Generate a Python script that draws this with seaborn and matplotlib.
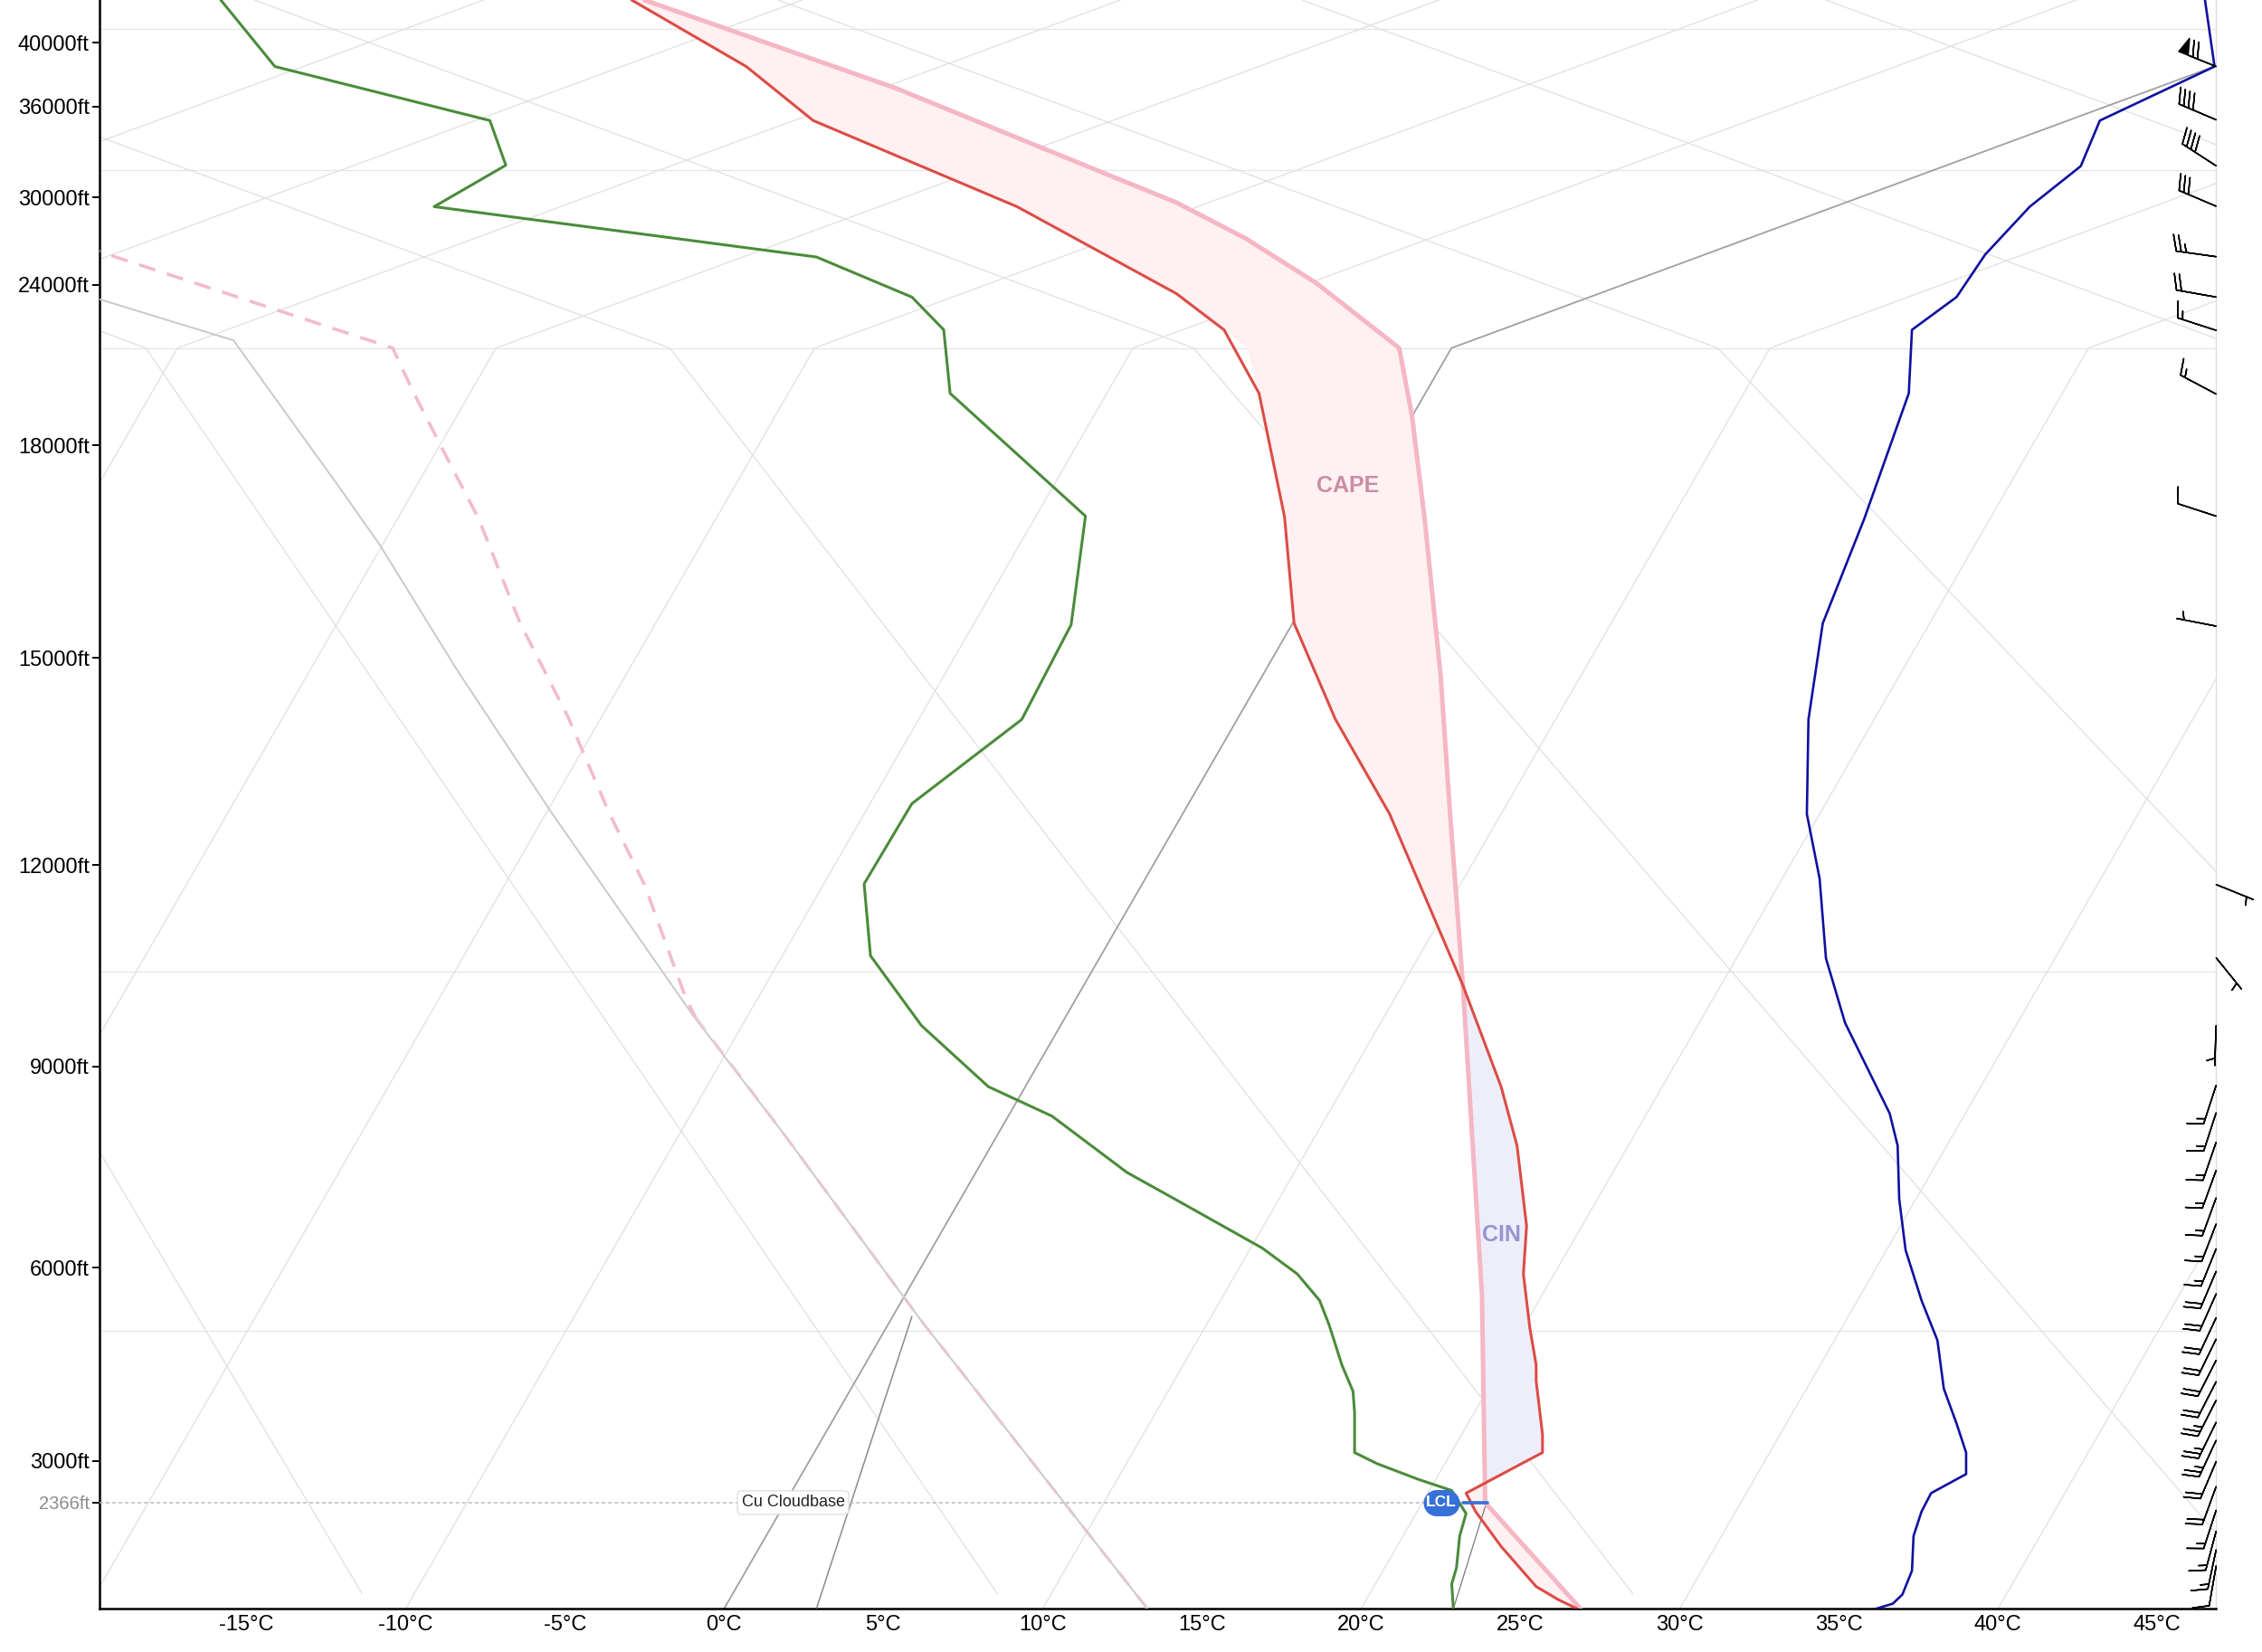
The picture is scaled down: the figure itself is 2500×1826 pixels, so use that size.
import numpy as np
import matplotlib
matplotlib.use("Agg")
import matplotlib.pyplot as plt
from matplotlib.path import Path
import seaborn as sns

# ---- sounding values (x = chart degC axis, y = altitude ft) ----
temp_c = [26.8, 26.2, 25.5, 24.4, 23.6, 23.3, 25.7, 25.7, 25.5, 25.5, 25.3, 25.1, 25.2,
          24.9, 24.4, 23.2, 20.9, 19.2, 17.9, 17.6, 16.8, 15.7, 14.2, 9.2, 2.8, 0.7, -2.9]
temp_ft = [750, 890, 1090, 1700, 2230, 2510, 3130, 3410, 4240, 4490, 5070, 5900, 6620,
           7820, 8700, 10210, 12740, 14110, 15490, 16990, 18730, 20700, 23350, 29360,
           35070, 38500, 42660]

parcel_c = [26.9, 23.9, 23.8, 23.2, 22.8, 22.5, 22.0, 21.6, 21.2, 18.6, 16.4, 14.2,
            10.2, 5.4, -2.5]
parcel_ft = [750, 2366, 5570, 10210, 12730, 14750, 16960, 18420, 19370, 24100, 27150,
             29650, 33080, 37140, 42660]

dew_c = [22.9, 22.85, 23.0, 23.1, 23.3, 23.0, 22.85, 21.8, 20.5, 19.8, 19.8, 19.75,
         19.4, 19.0, 18.7, 18.0, 16.9, 14.2, 12.65, 10.3, 8.3, 6.2, 4.6, 4.4, 5.9, 9.35,
         10.9, 11.35, 7.1, 6.9, 5.9, 2.9, -9.1, -6.85, -7.35, -14.1, -15.8]
dew_ft = [750, 1130, 1380, 1860, 2200, 2430, 2550, 2720, 2960, 3130, 3750, 4080, 4490,
          5110, 5490, 5900, 6290, 7010, 7420, 8260, 8700, 9610, 10650, 11720, 12890,
          14110, 15470, 17000, 18730, 20700, 23090, 25900, 29360, 32120, 35070, 38500,
          42660]

blue_c = [36.15, 36.7, 37.0, 37.3, 37.35, 37.6, 37.9, 39.0, 39.0, 38.7, 38.3, 38.1,
          37.6, 37.1, 36.9, 36.85, 36.6, 35.2, 34.6, 34.4, 34.0, 34.05, 34.5, 35.8,
          37.2, 37.3, 38.7, 39.6, 41.0, 42.6, 43.2, 46.8, 46.5]
blue_ft = [750, 830, 970, 1330, 1860, 2230, 2510, 2800, 3130, 3580, 4120, 4870, 5490,
           6260, 7020, 7820, 8300, 9650, 10610, 11800, 12740, 14110, 15490, 16960,
           18730, 20700, 23090, 26070, 29360, 32060, 35070, 38500, 42660]

descent_c = [-22.7, -15.4, -12.1, -10.8, -8.4, -5.4, -1.0, 1.9, 6.2, 13.3]
descent_ft = [25070, 19930, 17420, 16590, 14840, 12750, 9780, 7980, 5170, 750]

dashed_c = [-22.7, -10.4, -9.8, -8.8, -7.7, -6.4, -4.9, -3.6, -2.5, -1.2, -0.9,
            1.9, 6.2, 13.3]
dashed_ft = [28490, 19370, 18790, 17910, 16960, 15490, 14150, 12750, 11710, 10020,
             9740, 7980, 5170, 750]
FADE_FROM = 10

mix_c = [2.9, 5.9]
mix_ft = [750, 5240]
lcl_mix_c = [22.9, 23.94]
lcl_mix_ft = [750, 2366]

wind_ft = [38500, 35120, 32080, 29390, 25920, 23090, 20660, 18720, 17000, 15450,
           11710, 10620, 9610, 8720, 8310, 7870, 7450, 7040, 6650, 6280, 5940, 5590,
           5220, 4890, 4560, 4230, 3940, 3600, 3320, 2990, 2610, 2250, 1930, 1650, 1400]
wind_dir = [292, 293, 303, 293, 278, 280, 288, 298, 288, 281, 112, 141, 182, 198, 198,
            199, 200, 200, 201, 202, 203, 204, 205, 206, 207, 207, 207, 206, 205, 203,
            200, 198, 195, 192, 190]
wind_kt = [70, 40, 40, 30, 25, 20, 15, 15, 10, 5, 5, 5, 5, 15, 15, 15, 15, 15, 15, 15,
           20, 20, 20, 20, 20, 20, 25, 25, 25, 20, 20, 15, 15, 15, 10]

y_ticks = [3000, 6000, 9000, 12000, 15000, 18000, 24000, 30000, 36000, 40000]
x_ticks = list(range(-15, 50, 5))
lcl_ft = 2366
isobar_ft = [5013, 10408, 19368, 31780, 40876]

# ---- vertical scale (piecewise, compressed above 500 hPa) ----
ALT_REF = np.array([-5000, 750, 2366, 3000, 6000, 9000, 12000, 15000, 18000, 19368,
                    24000, 30000, 36000, 40000, 42660, 80000])
PIX_REF = np.array([1377.6, 1115.4, 1041.7, 1012.8, 878.7, 739.4, 599.7, 456.2, 308.6,
                    241.3, 197.3, 136.8, 73.8, 29.5, 0.0, -413.5])


def fwd(a):
    return -np.interp(a, ALT_REF, PIX_REF)


def inv(p):
    return np.interp(p, -PIX_REF, ALT_REF)


def pill_marker(aspect=1.38):
    # stadium shape used for the LCL badge
    half = (aspect - 1.0) / 2
    a1 = np.linspace(-np.pi / 2, np.pi / 2, 24)
    a2 = np.linspace(np.pi / 2, 3 * np.pi / 2, 24)
    verts = np.vstack([np.c_[half + 0.5 * np.cos(a1), 0.5 * np.sin(a1)],
                       np.c_[-half + 0.5 * np.cos(a2), 0.5 * np.sin(a2)]])
    verts = np.vstack([verts, verts[:1]])
    codes = [Path.MOVETO] + [Path.LINETO] * (len(verts) - 2) + [Path.CLOSEPOLY]
    return Path(verts, codes)


BREAK_FT = 19368
X_MIN, X_MAX = -19.61, 46.85
Y_MIN, Y_MAX = 750, 42660

sns.set_theme(style="white")
plt.rcParams["font.family"] = ["Liberation Sans", "DejaVu Sans"]

fig = plt.figure(figsize=(25, 18.26), dpi=100)
ax = fig.add_axes([0.04395, 0.02607, 0.93577, 0.97393])
ax.set_yscale("function", functions=(fwd, inv))
ax.set_xlim(X_MIN, X_MAX)
ax.set_ylim(Y_MIN, Y_MAX)

# background: isobars, skewed isotherms, dry adiabats
for h in isobar_ft:
    ax.axhline(h, color="#e6e6e6", lw=1.0, zorder=1)
for t0 in range(-60, 60, 10):
    col, lw = ("#a0a0a0", 1.3) if t0 == 0 else ("#e2e2e2", 1.0)
    ax.plot([t0, t0 + 22.84, t0 + 52.45], [Y_MIN, BREAK_FT, Y_MAX], color=col, lw=lw,
            zorder=1 if t0 else 2)
for k in range(-1, 7):
    tb = -18.15 + 16.45 * k
    ax.plot([8.59 + 19.95 * k, tb], [980, BREAK_FT], color="#e2e2e2", lw=1.0, zorder=1)
    ax.plot([tb, tb - 29.5], [BREAK_FT, Y_MAX], color="#e2e2e2", lw=1.0, zorder=1)

# CAPE / CIN shading between environment and parcel
grid_ft = np.union1d(temp_ft, parcel_ft)
t_i = np.interp(grid_ft, temp_ft, temp_c)
p_i = np.interp(grid_ft, parcel_ft, parcel_c)
ax.fill_betweenx(grid_ft, t_i, p_i, where=p_i >= t_i, interpolate=True,
                 color="#fff0f1", lw=0, zorder=2)
ax.fill_betweenx(grid_ft, t_i, p_i, where=p_i < t_i, interpolate=True,
                 color="#eeeefb", lw=0, zorder=2)

# auxiliary lines
ax.plot(descent_c, descent_ft, color="#c9c9c9", lw=1.4, zorder=3)
ax.plot(dashed_c[:FADE_FROM + 1], dashed_ft[:FADE_FROM + 1], color="#f2bccb", lw=2.6,
        linestyle=(0, (5.2, 3.7)), zorder=3)
ax.plot(dashed_c[FADE_FROM:], dashed_ft[FADE_FROM:], color="#e8c6cf", lw=2.6,
        linestyle=(0, (5.2, 3.7)), alpha=0.7, zorder=3)
ax.plot(mix_c, mix_ft, color="#8a8a8a", lw=1.1, zorder=3)
ax.plot(lcl_mix_c, lcl_mix_ft, color="#7a7a7a", lw=0.9, zorder=3)

# soundings
sns.lineplot(x=parcel_c, y=parcel_ft, sort=False, estimator=None, color="#f5b7c4",
             lw=3.6, ax=ax, zorder=4)
sns.lineplot(x=dew_c, y=dew_ft, sort=False, estimator=None, color="#4b8b3b",
             lw=2.2, ax=ax, zorder=5)
sns.lineplot(x=temp_c, y=temp_ft, sort=False, estimator=None, color="#dc4c46",
             lw=2.2, ax=ax, zorder=5)
sns.lineplot(x=blue_c, y=blue_ft, sort=False, estimator=None, color="#1010a0",
             lw=1.9, ax=ax, zorder=5)

# cloudbase / LCL
ax.plot([X_MIN, 22.0], [lcl_ft, lcl_ft], color="#b8b8b8", lw=1.1,
        linestyle=(0, (2.6, 2.0)), zorder=3)
ax.text(2.17, lcl_ft, "Cu Cloudbase", ha="center", va="center", fontsize=13,
        color="#222222", zorder=6,
        bbox=dict(boxstyle="round,pad=0.25", fc="white", ec="#d8d8d8", lw=0.8))
ax.plot([23.2, 23.98], [lcl_ft, lcl_ft], color="#3670d8", lw=2.6, zorder=6)
ax.plot([22.53], [lcl_ft], marker=pill_marker(), ms=28.8, color="#3670d8",
        mec="none", zorder=7)
ax.text(22.53, lcl_ft, "LCL", ha="center", va="center", fontsize=12.5, color="white",
        fontweight="bold", zorder=8)

ax.text(19.59, 17430, "CAPE", ha="center", va="center", fontsize=18,
        fontweight="bold", color="#c98ea6", zorder=6)
ax.text(24.42, 6490, "CIN", ha="center", va="center", fontsize=18,
        fontweight="bold", color="#9696cf", zorder=6)

# wind barbs along the right edge
wd = np.deg2rad(wind_dir)
spd = np.array(wind_kt, dtype=float)
u = -spd * np.sin(wd)
v = -spd * np.cos(wd)
ax.barbs(np.full(len(wind_ft), X_MAX), wind_ft, u, v, length=8, lw=1.1,
         color="black", clip_on=False, zorder=8)

# axes
ax.set_xticks(x_ticks, labels=[f"{t}°C" for t in x_ticks])
ax.set_yticks(y_ticks + [lcl_ft],
              labels=[f"{h}ft" for h in y_ticks] + [f"{lcl_ft}ft"])
ax.tick_params(axis="x", length=0, pad=5, labelsize=17, colors="black")
ax.tick_params(axis="y", length=6, width=1.4, pad=2, labelsize=17, colors="black",
               left=True)
lab = ax.get_yticklabels()[-1]
lab.set_color("#8c8c8c")
lab.set_fontsize(14.5)
ax.yaxis.get_ticklines()[-2].set_color("#8c8c8c")
ax.grid(False)
ax.set_xlabel("")
ax.set_ylabel("")
for side in ["left", "bottom"]:
    ax.spines[side].set_color("black")
    ax.spines[side].set_linewidth(1.8)
ax.spines["right"].set_color("#dddddd")
ax.spines["right"].set_linewidth(1.0)
ax.spines["top"].set_visible(False)

fig.savefig("out.png", dpi=100)
